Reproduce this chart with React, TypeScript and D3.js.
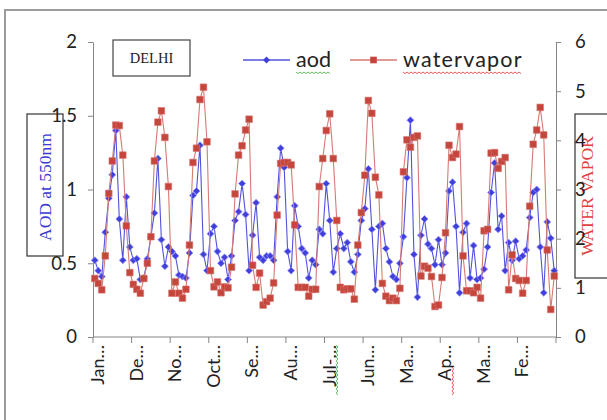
import React, { useEffect, useRef } from "react";
import * as d3 from "d3";

// monthly values (132 months)
const aod = [
  0.52, 0.45, 0.41, 0.71, 0.94, 1.1, 1.4, 0.8, 0.52, 0.95,
  0.61, 0.52, 0.53, 0.39, 0.4, 0.53, 0.68, 0.84, 1.21, 0.66,
  0.48, 0.61, 0.58, 0.55, 0.42, 0.41, 0.4, 0.57, 0.96, 0.99,
  1.3, 0.56, 0.45, 0.7, 0.75, 0.58, 0.5, 0.54, 0.39, 0.55,
  0.79, 0.85, 1.04, 0.83, 0.45, 0.69, 0.91, 0.54, 0.52, 0.55,
  0.55, 0.52, 0.95, 1.28, 1.15, 0.58, 0.45, 0.89, 0.75, 0.6,
  0.57, 0.4, 0.52, 0.49, 0.73, 0.7, 1.04, 0.79, 0.44, 0.6,
  0.7, 0.6, 0.64, 0.51, 0.44, 0.56, 0.79, 0.87, 1.14, 0.73,
  0.32, 0.75, 0.77, 0.6, 0.51, 0.41, 0.39, 0.5, 0.68, 1.08,
  1.47, 0.56, 0.27, 0.69, 0.8, 0.63, 0.6, 0.49, 0.66, 0.49,
  0.57, 0.99, 1.05, 0.75, 0.3, 0.71, 0.77, 0.4, 0.62, 0.39,
  0.4, 0.46, 0.61, 0.98, 1.18, 0.73, 0.82, 0.45, 0.64, 0.52,
  0.65, 0.53, 0.55, 0.59, 0.81, 0.98, 1.0, 0.61, 0.3, 0.78,
  0.67, 0.45,
];

const waterVapor = [
  1.19, 1.09, 0.96, 1.65, 2.92, 3.58, 4.31, 4.3, 3.7, 2.26,
  1.31, 1.07, 0.97, 0.89, 1.19, 1.5, 2.04, 3.58, 4.37, 4.6,
  4.06, 3.06, 0.89, 1.12, 0.89, 0.79, 0.97, 1.87, 3.55, 3.84,
  4.83, 5.08, 3.97, 1.35, 1.02, 1.12, 0.9, 1.02, 1.0, 1.42,
  2.91, 3.7, 3.89, 4.21, 4.43, 1.46, 1.01, 1.3, 0.65, 0.72,
  0.79, 1.1, 2.48, 3.53, 3.55, 3.55, 3.5, 2.28, 1.01, 1.01,
  1.01, 0.83, 0.97, 0.97, 3.06, 3.63, 4.2, 4.54, 3.63, 2.37,
  1.01, 0.96, 0.98, 0.98, 0.77, 1.87, 2.53, 3.29, 4.81, 4.55,
  3.25, 2.89, 1.09, 0.83, 0.74, 0.79, 0.74, 0.99, 3.36, 4.01,
  3.86, 4.06, 4.09, 1.24, 1.44, 1.4, 1.23, 0.62, 0.65, 1.21,
  2.12, 3.9, 3.65, 3.72, 4.28, 1.65, 0.94, 0.94, 0.9, 1.01,
  0.79, 2.16, 2.19, 3.74, 3.75, 3.43, 3.57, 3.65, 0.96, 1.67,
  1.19, 1.15, 0.89, 1.15, 2.66, 3.92, 4.21, 4.67, 4.11, 1.77,
  0.56, 1.24,
];

// one label every 11 months, as Excel truncated them
const tickLabels = ["Jan…", "De…", "No…", "Oct…", "Se…", "Au…", "Jul-…", "Jun…", "Ma…", "Ap…", "Ma…", "Fe…"];
const labelStep = 11;
const leftTicks = [0, 0.5, 1, 1.5, 2];
const rightTicks = [0, 1, 2, 3, 4, 5, 6];
const seriesNames = ["aod", "watervapor"];

const BLUE = "#4040d8";
const RED = "#c4463d";

const App = () => {
  const svgRef = useRef<SVGSVGElement>(null);

  useEffect(() => {
    const svg = d3.select(svgRef.current);
    svg.selectAll("*").remove();

    const width = 607;
    const height = 420;
    const margin = { top: 42, right: 51, bottom: 83, left: 93 };
    const n = aod.length;

    const x = d3.scaleLinear().domain([0, n]).range([margin.left, width - margin.right]);
    const yL = d3.scaleLinear().domain([0, 2]).range([height - margin.bottom, margin.top]);
    const yR = d3.scaleLinear().domain([0, 6]).range([height - margin.bottom, margin.top]);
    const cx = (i) => x(i + 0.5);

    // wavy spell-check underline
    const squiggle = (x0, x1, y, color, vertical = false) => {
      const pts = d3.range(x0, x1, 2).map((v, i) =>
        vertical ? [y + (i % 2 ? 1.6 : 0), v] : [v, y + (i % 2 ? 1.6 : 0)]
      );
      svg.append("path")
        .attr("d", d3.line()(pts))
        .attr("fill", "none")
        .attr("stroke", color)
        .attr("stroke-width", 0.8);
    };

    // chart frame
    svg.append("rect")
      .attr("x", 5).attr("y", 10)
      .attr("width", 700).attr("height", 500)
      .attr("fill", "none")
      .attr("stroke", "#9c9c9c")
      .attr("stroke-width", 2);

    // axis title boxes (numbers sit on top of them)
    svg.append("rect")
      .attr("x", 27).attr("y", 114).attr("width", 36).attr("height", 142)
      .attr("fill", "#fff").attr("stroke", "#333").attr("stroke-width", 1.2);
    svg.append("text")
      .attr("transform", "translate(45,187) rotate(-90)")
      .attr("text-anchor", "middle")
      .attr("dy", "0.35em")
      .attr("font-family", "'Liberation Serif', serif")
      .attr("font-size", 17.5)
      .attr("fill", "#3a3ad0")
      .text("AOD at 550nm");

    svg.append("rect")
      .attr("x", 575).attr("y", 114).attr("width", 45).attr("height", 164)
      .attr("fill", "#fff").attr("stroke", "#333").attr("stroke-width", 1.2);
    svg.append("text")
      .attr("transform", "translate(587,196) rotate(-90)")
      .attr("text-anchor", "middle")
      .attr("dy", "0.35em")
      .attr("font-family", "'Liberation Serif', serif")
      .attr("font-size", 17.5)
      .attr("fill", "#e04040")
      .text("WATER VAPOR");

    // title box
    svg.append("rect")
      .attr("x", 113).attr("y", 40).attr("width", 77).attr("height", 36)
      .attr("fill", "#fff").attr("stroke", "#444").attr("stroke-width", 1.2);
    svg.append("text")
      .attr("x", 151.5).attr("y", 63)
      .attr("text-anchor", "middle")
      .attr("font-family", "'Liberation Serif', serif")
      .attr("font-size", 14.5)
      .attr("fill", "#222")
      .text("DELHI");

    const styleAxis = (g) => {
      g.select(".domain").attr("stroke", "#868686");
      g.selectAll(".tick line").attr("stroke", "#868686");
      g.selectAll(".tick text")
        .attr("fill", "#222")
        .attr("font-family", "Lato, sans-serif")
        .attr("font-size", 18.5);
    };

    // left axis
    svg.append("g")
      .attr("transform", `translate(${margin.left},0)`)
      .call(d3.axisLeft(yL).tickValues(leftTicks).tickSize(5).tickSizeOuter(0).tickPadding(11).tickFormat(d3.format("")))
      .call(styleAxis);

    // right axis
    svg.append("g")
      .attr("transform", `translate(${width - margin.right},0)`)
      .call(d3.axisRight(yR).tickValues(rightTicks).tickSize(5).tickSizeOuter(0).tickPadding(14).tickFormat(d3.format("")))
      .call(styleAxis);

    // category axis
    const bottom = height - margin.bottom;
    const tickIdx = d3.range(0, n + 1, labelStep);
    svg.append("line")
      .attr("x1", x(0)).attr("x2", x(n))
      .attr("y1", bottom).attr("y2", bottom)
      .attr("stroke", "#868686");
    svg.selectAll(".xtick")
      .data(tickIdx)
      .join("line")
      .attr("x1", (d) => x(d)).attr("x2", (d) => x(d))
      .attr("y1", bottom).attr("y2", bottom + 6)
      .attr("stroke", "#868686");
    svg.selectAll(".xlabel")
      .data(tickLabels)
      .join("text")
      .attr("transform", (d, i) => `translate(${cx(i * labelStep) + 3},${bottom + 8}) rotate(-90)`)
      .attr("text-anchor", "end")
      .attr("dy", "0.35em")
      .attr("font-family", "Lato, sans-serif")
      .attr("font-size", 18)
      .attr("fill", "#222")
      .text((d) => d);
    squiggle(bottom + 8, bottom + 60, cx(6 * labelStep) + 10, "#3aa83a", true);
    squiggle(bottom + 30, bottom + 60, cx(9 * labelStep) + 10, "#e03030", true);

    // series
    const lineL = d3.line().x((d, i) => cx(i)).y((d) => yL(d));
    const lineR = d3.line().x((d, i) => cx(i)).y((d) => yR(d));
    const diamond = d3.symbol(d3.symbolSquare, 24);
    const square = d3.symbol(d3.symbolSquare, 44);

    svg.append("path")
      .attr("d", lineL(aod))
      .attr("fill", "none")
      .attr("stroke", "#5252dc")
      .attr("stroke-width", 1.1);
    svg.selectAll(".aodpt")
      .data(aod)
      .join("path")
      .attr("d", diamond)
      .attr("transform", (d, i) => `translate(${cx(i)},${yL(d)}) rotate(45)`)
      .attr("fill", BLUE)
      .attr("stroke", "#8a8aff")
      .attr("stroke-width", 0.8);

    svg.append("path")
      .attr("d", lineR(waterVapor))
      .attr("fill", "none")
      .attr("stroke", "#d67a74")
      .attr("stroke-width", 1.1);
    svg.selectAll(".wvpt")
      .data(waterVapor)
      .join("path")
      .attr("d", square)
      .attr("transform", (d, i) => `translate(${cx(i)},${yR(d)})`)
      .attr("fill", RED)
      .attr("stroke", "#d9766e")
      .attr("stroke-width", 0.6);

    // legend
    const legend = [
      { name: seriesNames[0], x: 243, color: "#5252dc", sym: diamond, fill: BLUE, rot: 45, wave: "#3aa83a" },
      { name: seriesNames[1], x: 350, color: "#d67a74", sym: square, fill: RED, rot: 0, wave: "#e03030" },
    ];
    legend.forEach((l) => {
      svg.append("line")
        .attr("x1", l.x).attr("x2", l.x + 47)
        .attr("y1", 60).attr("y2", 60)
        .attr("stroke", l.color).attr("stroke-width", 1.5);
      svg.append("path")
        .attr("d", l.sym)
        .attr("transform", `translate(${l.x + 23.5},60) rotate(${l.rot})`)
        .attr("fill", l.fill);
      const t = svg.append("text")
        .attr("x", l.x + 53).attr("y", 67)
        .attr("font-family", "Lato, sans-serif")
        .attr("font-size", 21.5)
        .attr("letter-spacing", l.name.length > 5 ? 1.2 : 0)
        .attr("fill", "#222")
        .text(l.name);
      const w = (t.node() as SVGTextElement).getComputedTextLength();
      squiggle(l.x + 53, l.x + 53 + w, 72, l.wave);
    });
  }, []);

  return (
    <svg
      ref={svgRef}
      width={607}
      height={420}
      style={{ position: "absolute", left: 0, top: 0, background: "#fff" }}
    />
  );
};

export default App;
